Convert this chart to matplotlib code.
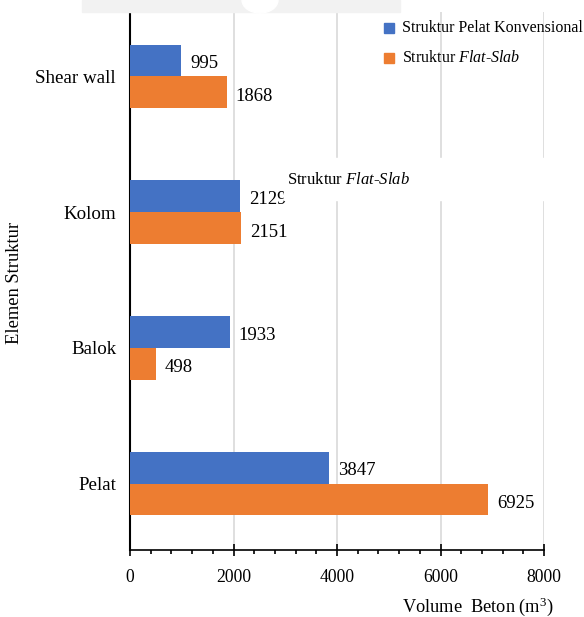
import matplotlib
matplotlib.use("Agg")
import matplotlib.pyplot as plt
from matplotlib.patches import Rectangle, Ellipse
from matplotlib.ticker import MultipleLocator
import numpy as np

categories = ["Pelat", "Balok", "Kolom", "Shear wall"]
konvensional = [3847, 1933, 2129, 995]
flat_slab = [6925, 498, 2151, 1868]
series_names = ["Struktur Pelat Konvensional", "Struktur Flat-Slab"]
xticks = [0, 2000, 4000, 6000, 8000]

plt.rcParams['font.family'] = ['Liberation Serif', 'DejaVu Serif']
plt.rcParams['mathtext.fontset'] = 'custom'
plt.rcParams['mathtext.rm'] = 'Liberation Serif'
plt.rcParams['mathtext.it'] = 'Liberation Serif:italic'

W, H = 584, 617
fig = plt.figure(figsize=(W/100, H/100), dpi=100)
ax = fig.add_axes([130/W, 1-550/H, (544-130)/W, (550-12)/H])

blue = "#4472C4"
orange = "#ED7D31"
y = np.arange(len(categories))
h = 0.235
b1 = ax.barh(y + h/2, konvensional, height=h, color=blue, zorder=3)
b2 = ax.barh(y - h/2, flat_slab, height=h, color=orange, zorder=3)

for rect, v in zip(b1, konvensional):
    ax.text(v + 170, rect.get_y() + rect.get_height()/2 - 0.025, f"{v}",
            va='center', ha='left', fontsize=13.5, zorder=4)
for rect, v in zip(b2, flat_slab):
    ax.text(v + 170, rect.get_y() + rect.get_height()/2 - 0.03, f"{v}",
            va='center', ha='left', fontsize=13.5, zorder=4)

ax.set_xlim(0, 8000)
ax.set_ylim(-0.49, 3.475)
ax.set_xticks(xticks)
ax.xaxis.set_minor_locator(MultipleLocator(400))
ax.set_yticks(y)
ax.set_yticklabels(categories, fontsize=13.7)
ax.tick_params(axis='y', length=0, pad=10)
ax.tick_params(axis='x', which='major', direction='inout', length=8, width=1.2, labelsize=12.7, pad=10)
ax.tick_params(axis='x', which='minor', direction='out', length=3, width=1.2)
ax.grid(axis='x', color='#d9d9d9', linewidth=1.2, zorder=0)
for s in ['top', 'right']:
    ax.spines[s].set_visible(False)
ax.spines['left'].set_linewidth(1.5)
ax.spines['bottom'].set_linewidth(1.2)

fig.text(15/W, 1-283/H, "Elemen Struktur", rotation=90, va='center', ha='center', fontsize=13.3)
fig.text(478/W, 1-607/H, r"Volume  Beton (m$^3$)", va='center', ha='center', fontsize=13.2)

# legend
fig.patches.append(Rectangle((384/W, 1-33/H), 10/W, 10/H, transform=fig.transFigure, color=blue, figure=fig))
fig.patches.append(Rectangle((384/W, 1-63/H), 10/W, 10/H, transform=fig.transFigure, color=orange, figure=fig))
fig.text(402/W, 1-28/H, series_names[0], va='center', ha='left', fontsize=11.5)
fig.text(402/W, 1-58/H, r"Struktur $\mathit{Flat}$-$\mathit{Slab}$", va='center', ha='left', fontsize=11.5)

# stray text box
fig.patches.append(Rectangle((284/W, 1-200/H), (584-284)/W, 42/H, transform=fig.transFigure,
                             color='white', zorder=5, figure=fig))
fig.text(287/W, 1-180/H, r"Struktur $\mathit{Flat}$-$\mathit{Slab}$", va='center', ha='left', fontsize=12, zorder=6)

# top gray band
fig.patches.append(Rectangle((82/W, 1-12/H), (400-82)/W, 12/H, transform=fig.transFigure,
                             color='#f2f2f2', zorder=5, figure=fig))
fig.patches.append(Ellipse((260/W, 1-0/H), 36/W, 26/H, transform=fig.transFigure,
                           color='white', zorder=6, figure=fig))

fig.savefig("out.png", dpi=100)
